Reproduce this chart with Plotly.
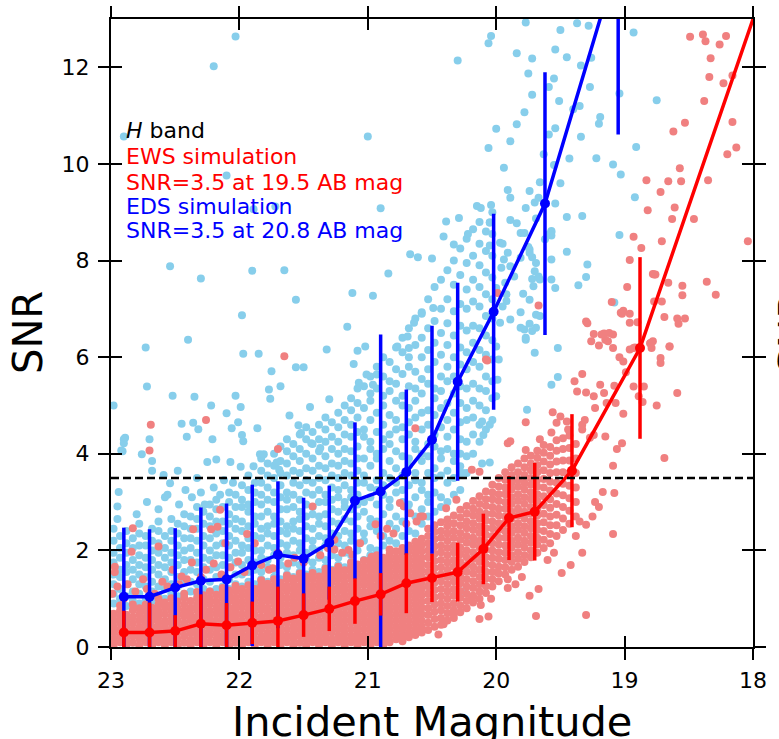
import plotly.graph_objects as go

# binned median curves with error bars
ews_bin_mag = [22.9, 22.7, 22.5, 22.3, 22.1, 21.9, 21.7, 21.5, 21.3, 21.1,
               20.9, 20.7, 20.5, 20.3, 20.1, 19.9, 19.7, 19.41, 18.88, 17.9]
ews_bin_snr = [0.30, 0.30, 0.33, 0.48, 0.45, 0.50, 0.54, 0.66, 0.79, 0.95,
               1.09, 1.32, 1.43, 1.55, 2.03, 2.67, 2.80, 3.65, 6.19, 13.77]
ews_bin_err = [0.45, 0.62, 0.33, 0.61, 0.46, 0.44, 0.71, 0.45, 0.46, 0.47,
               0.44, 0.62, 0.50, 0.61, 0.73, 0.87, 1.01, 1.17, 1.88, 2.5]

eds_bin_mag = [22.9, 22.7, 22.5, 22.3, 22.1, 21.9, 21.7, 21.5, 21.3, 21.1,
               20.9, 20.7, 20.5, 20.3, 20.02, 19.62, 19.05]
eds_bin_snr = [1.04, 1.04, 1.23, 1.37, 1.40, 1.69, 1.91, 1.83, 2.16, 3.03,
               3.22, 3.62, 4.29, 5.49, 6.94, 9.18, 14.25]
eds_bin_err = [1.43, 1.40, 1.23, 1.52, 1.57, 1.67, 1.52, 1.26, 1.18, 1.62,
               3.25, 1.71, 2.36, 2.05, 2.03, 2.72, 3.64]

snr_threshold = 3.5
mag_ticks = [23, 22, 21, 20, 19, 18]
snr_ticks = [0, 2, 4, 6, 8, 10, 12]

# EWS simulated sources: the packed band, listed column by column
ews_core_columns = [
    (22.98, [0.03, 0.16, 0.3, 0.42, 0.55, 0.69]),
    (22.93, [0.1, 0.23, 0.36, 0.5, 0.62, 0.75, 0.86]),
    (22.88, [0.04, 0.16, 0.29, 0.43, 0.55, 0.67]),
    (22.83, [0.09, 0.22, 0.36, 0.49, 0.62, 0.76, 0.88]),
    (22.78, [0.03, 0.17, 0.29, 0.41, 0.55, 0.68, 0.8]),
    (22.73, [0.1, 0.24, 0.36, 0.49, 0.61, 0.75, 0.88]),
    (22.68, [0.03, 0.16, 0.28, 0.42, 0.56, 0.68, 0.81]),
    (22.63, [0.1, 0.23, 0.37, 0.49, 0.62, 0.74, 0.88, 1.0]),
    (22.58, [0.04, 0.16, 0.29, 0.42, 0.54, 0.68, 0.81, 0.92]),
    (22.53, [0.1, 0.22, 0.36, 0.5, 0.62, 0.75, 0.87, 1.01]),
    (22.48, [0.03, 0.16, 0.3, 0.42, 0.55, 0.68, 0.8, 0.94]),
    (22.43, [0.09, 0.23, 0.36, 0.49, 0.63, 0.75, 0.88, 1.02, 1.1]),
    (22.38, [0.03, 0.15, 0.29, 0.42, 0.56, 0.68, 0.81, 0.95]),
    (22.33, [0.1, 0.23, 0.35, 0.49, 0.62, 0.76, 0.88, 1.01, 1.14]),
    (22.28, [0.04, 0.16, 0.29, 0.43, 0.55, 0.68, 0.82, 0.94, 1.07]),
    (22.23, [0.1, 0.24, 0.36, 0.49, 0.62, 0.75, 0.89, 1.01, 1.15]),
    (22.18, [0.03, 0.16, 0.29, 0.42, 0.55, 0.69, 0.81, 0.94, 1.08]),
    (22.13, [0.1, 0.23, 0.37, 0.49, 0.62, 0.75, 0.88, 1.02, 1.14, 1.22]),
    (22.08, [0.03, 0.17, 0.29, 0.42, 0.56, 0.68, 0.81, 0.95, 1.07, 1.17]),
    (22.03, [0.09, 0.23, 0.36, 0.5, 0.62, 0.75, 0.88, 1.01, 1.15, 1.27]),
    (21.98, [0.03, 0.16, 0.29, 0.42, 0.55, 0.68, 0.82, 0.94, 1.07, 1.2]),
    (21.93, [0.1, 0.23, 0.36, 0.49, 0.63, 0.75, 0.88, 1.01, 1.14, 1.28]),
    (21.88, [0.04, 0.16, 0.3, 0.42, 0.55, 0.68, 0.81, 0.94, 1.08, 1.2]),
    (21.83, [0.1, 0.22, 0.36, 0.49, 0.62, 0.76, 0.88, 1.01, 1.14, 1.27, 1.38]),
    (21.78, [0.03, 0.16, 0.29, 0.43, 0.55, 0.68, 0.81, 0.95, 1.07, 1.2, 1.31]),
    (21.73, [0.1, 0.23, 0.36, 0.49, 0.62, 0.75, 0.89, 1.01, 1.14, 1.27, 1.4]),
    (21.68, [0.03, 0.16, 0.29, 0.42, 0.56, 0.68, 0.81, 0.94, 1.07, 1.21, 1.33]),
    (21.63, [0.1, 0.23, 0.36, 0.5, 0.62, 0.75, 0.88, 1.01, 1.15, 1.27, 1.4, 1.48]),
    (21.58, [0.03, 0.17, 0.29, 0.42, 0.55, 0.68, 0.82, 0.94, 1.07, 1.2, 1.33, 1.42]),
    (21.53, [0.09, 0.23, 0.36, 0.49, 0.62, 0.76, 0.88, 1.01, 1.14, 1.27, 1.41, 1.52]),
    (21.48, [0.03, 0.16, 0.29, 0.42, 0.55, 0.68, 0.81, 0.94, 1.08, 1.2, 1.33, 1.46]),
    (21.43, [0.1, 0.23, 0.36, 0.49, 0.62, 0.75, 0.88, 1.02, 1.14, 1.27, 1.4, 1.53]),
    (21.38, [0.04, 0.16, 0.29, 0.42, 0.55, 0.69, 0.81, 0.94, 1.07, 1.2, 1.33, 1.46]),
    (21.33, [0.1, 0.23, 0.36, 0.49, 0.63, 0.75, 0.88, 1.01, 1.14, 1.27, 1.4, 1.53, 1.62]),
    (21.28, [0.03, 0.16, 0.3, 0.42, 0.55, 0.68, 0.81, 0.94, 1.07, 1.2, 1.34, 1.46, 1.58]),
    (21.23, [0.1, 0.23, 0.36, 0.49, 0.62, 0.75, 0.88, 1.01, 1.15, 1.27, 1.4, 1.53, 1.66]),
    (21.18, [0.03, 0.16, 0.29, 0.42, 0.55, 0.68, 0.82, 0.94, 1.07, 1.2, 1.33, 1.46, 1.59]),
    (21.13, [0.1, 0.23, 0.36, 0.5, 0.62, 0.75, 0.88, 1.01, 1.14, 1.27, 1.41, 1.53, 1.66, 1.75]),
    (21.08, [0.03, 0.16, 0.29, 0.42, 0.55, 0.68, 0.81, 0.95, 1.07, 1.2, 1.33, 1.46, 1.59, 1.71]),
    (21.03, [0.1, 0.23, 0.36, 0.49, 0.62, 0.75, 0.88, 1.01, 1.14, 1.28, 1.4, 1.53, 1.66, 1.79]),
    (20.98, [0.03, 0.16, 0.29, 0.42, 0.55, 0.68, 0.81, 0.94, 1.07, 1.2, 1.33, 1.46, 1.6, 1.72, 1.8]),
    (20.93, [0.1, 0.23, 0.36, 0.49, 0.62, 0.75, 0.88, 1.01, 1.14, 1.27, 1.4, 1.53, 1.66, 1.79, 1.9]),
    (20.88, [0.04, 0.16, 0.29, 0.42, 0.55, 0.68, 0.81, 0.94, 1.07, 1.2, 1.33, 1.46, 1.59, 1.72, 1.85]),
    (20.83, [0.1, 0.23, 0.36, 0.49, 0.62, 0.75, 0.88, 1.01, 1.14, 1.27, 1.4, 1.53, 1.66, 1.79, 1.92, 2.02]),
    (20.78, [0.16, 0.29, 0.42, 0.55, 0.68, 0.81, 0.94, 1.07, 1.2, 1.33, 1.46, 1.59, 1.72, 1.85, 1.98]),
    (20.73, [0.12, 0.23, 0.36, 0.49, 0.62, 0.75, 0.88, 1.01, 1.14, 1.27, 1.4, 1.53, 1.66, 1.79, 1.92, 2.05]),
    (20.68, [0.2, 0.29, 0.42, 0.55, 0.68, 0.81, 0.94, 1.07, 1.2, 1.33, 1.46, 1.59, 1.72, 1.85, 1.98, 2.1]),
    (20.63, [0.25, 0.36, 0.49, 0.62, 0.75, 0.88, 1.01, 1.14, 1.27, 1.4, 1.53, 1.66, 1.79, 1.92, 2.05, 2.18]),
    (20.58, [0.3, 0.42, 0.55, 0.68, 0.81, 0.94, 1.07, 1.2, 1.33, 1.46, 1.59, 1.72, 1.85, 1.98, 2.11, 2.24]),
    (20.53, [0.35, 0.5, 0.66, 0.8, 0.95, 1.1, 1.26, 1.4, 1.55, 1.7, 1.86, 2.0, 2.15, 2.3, 2.45]),
    (20.48, [0.42, 0.58, 0.73, 0.88, 1.03, 1.18, 1.33, 1.48, 1.63, 1.78, 1.93, 2.08, 2.23, 2.38, 2.52]),
    (20.43, [0.46, 0.6, 0.76, 0.9, 1.05, 1.2, 1.36, 1.5, 1.65, 1.8, 1.96, 2.1, 2.26, 2.4, 2.58]),
    (20.38, [0.55, 0.7, 0.85, 1.0, 1.15, 1.3, 1.45, 1.6, 1.75, 1.9, 2.05, 2.2, 2.35, 2.5, 2.64]),
    (20.33, [0.6, 0.76, 0.9, 1.06, 1.2, 1.36, 1.5, 1.66, 1.8, 1.96, 2.1, 2.26, 2.4, 2.56, 2.72]),
    (20.28, [0.72, 0.86, 1.02, 1.16, 1.32, 1.46, 1.62, 1.76, 1.92, 2.06, 2.22, 2.36, 2.52, 2.68, 2.84]),
    (20.23, [0.8, 0.95, 1.1, 1.25, 1.4, 1.56, 1.7, 1.86, 2.0, 2.16, 2.3, 2.46, 2.6, 2.76, 2.92]),
    (20.18, [0.92, 1.06, 1.22, 1.36, 1.52, 1.66, 1.82, 1.96, 2.12, 2.26, 2.42, 2.56, 2.72, 2.86, 3.02]),
    (20.13, [1.0, 1.15, 1.3, 1.45, 1.6, 1.76, 1.9, 2.06, 2.2, 2.36, 2.5, 2.66, 2.8, 2.96, 3.12]),
    (20.08, [1.12, 1.26, 1.42, 1.56, 1.72, 1.86, 2.02, 2.16, 2.32, 2.46, 2.62, 2.76, 2.92, 3.06, 3.22]),
    (20.03, [1.25, 1.4, 1.55, 1.7, 1.85, 2.0, 2.15, 2.3, 2.46, 2.6, 2.76, 2.9, 3.06, 3.2, 3.36]),
    (19.98, [1.36, 1.52, 1.66, 1.82, 1.96, 2.12, 2.26, 2.42, 2.56, 2.72, 2.86, 3.02, 3.16, 3.32, 3.5]),
    (19.93, [1.5, 1.65, 1.8, 1.95, 2.1, 2.26, 2.4, 2.56, 2.7, 2.86, 3.0, 3.16, 3.3, 3.46, 3.62]),
    (19.88, [1.6, 1.76, 1.9, 2.06, 2.2, 2.36, 2.5, 2.66, 2.8, 2.96, 3.1, 3.26, 3.4, 3.56, 3.72]),
    (19.83, [1.66, 1.82, 1.96, 2.12, 2.26, 2.42, 2.56, 2.72, 2.86, 3.02, 3.16, 3.32, 3.46, 3.62, 3.8]),
    (19.78, [1.76, 1.9, 2.06, 2.2, 2.36, 2.5, 2.66, 2.8, 2.96, 3.1, 3.26, 3.4, 3.56, 3.72, 3.9]),
    (19.73, [1.86, 2.0, 2.16, 2.3, 2.46, 2.6, 2.76, 2.9, 3.06, 3.2, 3.36, 3.5, 3.66, 3.8, 3.96]),
    (19.68, [1.95, 2.12, 2.26, 2.42, 2.56, 2.72, 2.86, 3.02, 3.16, 3.32, 3.46, 3.62, 3.76, 3.92, 4.06]),
    (19.63, [2.05, 2.22, 2.4, 2.58, 2.76, 2.94, 3.12, 3.3, 3.48, 3.66, 3.84, 4.02, 4.18]),
    (19.58, [2.15, 2.34, 2.52, 2.7, 2.88, 3.06, 3.24, 3.42, 3.6, 3.78, 3.96, 4.14]),
    (19.53, [2.3, 2.52, 2.74, 2.96, 3.18, 3.4, 3.62, 3.84, 4.06, 4.28]),
    (19.48, [2.42, 2.66, 2.9, 3.14, 3.38, 3.62, 3.86, 4.1, 4.32]),
    (19.43, [2.55, 2.82, 3.08, 3.34, 3.6, 3.86, 4.12, 4.38]),
    (19.38, [2.7, 3.0, 3.3, 3.6, 3.9, 4.2]),
]

# EWS sources scattered outside the packed band
ews_scatter = [
    (22.97, 1.66), (22.97, 1.55), (22.84, 1.97), (22.83, 2.46), (22.63, 2.08), (22.45, 1.46),
    (22.2, 1.73), (22.11, 2.15), (22.36, 2.44), (22.22, 2.44), (22.15, 2.84), (22.99, 1.1),
    (22.95, 1.25), (22.9, 1.0), (22.87, 1.3), (22.81, 1.15), (22.75, 1.4), (22.72, 1.2),
    (22.66, 1.1), (22.6, 1.35), (22.56, 1.25), (22.52, 1.6), (22.47, 1.3), (22.41, 1.4),
    (22.37, 1.75), (22.3, 1.45), (22.26, 1.6), (22.17, 2.49), (22.14, 1.5), (22.07, 1.65),
    (22.01, 1.77), (21.96, 1.55), (21.94, 2.34), (21.88, 2.15), (21.83, 1.7), (21.77, 1.6),
    (21.74, 1.63), (21.7, 1.95), (21.62, 1.73), (21.57, 1.85), (21.5, 1.75), (21.43, 2.91),
    (21.37, 1.9), (21.31, 2.05), (21.26, 2.22), (21.26, 2.02), (21.2, 1.95), (21.15, 2.01),
    (21.12, 1.91), (21.06, 2.15), (20.97, 1.87), (20.94, 2.54), (20.9, 2.3), (20.85, 2.45),
    (20.8, 2.35), (20.75, 2.98), (20.72, 2.91), (20.7, 2.55), (20.67, 2.77), (20.62, 2.6),
    (20.59, 2.7), (20.57, 2.7),
    (22.69, 4.6), (22.26, 4.7), (22.7, 4.07), (21.7, 4.1), (21.65, 6.02), (20.63, 4.53),
    (20.07, 5.93), (19.91, 4.22), (20.19, 3.67), (20.13, 3.63), (20.31, 3.05), (20.39, 2.87),
    (19.99, 7.33), (19.67, 7.07), (20.08, 5.95),
    (19.3, 0.66), (19.69, 0.64), (20.06, 0.63), (20.13, 0.58), (20.45, 0.26), (20.41, 0.47),
    (20.33, 0.68), (19.74, 1.06), (19.67, 1.2), (19.49, 1.53), (19.42, 1.7), (19.33, 1.95),
    (19.09, 2.34), (19.3, 2.53), (19.17, 3.21), (19.08, 3.19), (19.23, 3.0), (19.09, 3.75),
    (19.91, 1.22), (19.91, 1.4), (19.99, 1.54), (20.12, 0.87), (20.19, 1.01), (20.04, 1.0),
    (19.85, 1.3), (19.8, 1.45), (19.6, 1.8), (19.55, 1.95), (19.38, 2.3), (19.25, 2.7),
    (19.2, 2.9), (19.35, 2.6),
    (19.77, 4.65), (19.89, 4.26), (19.66, 4.3), (19.77, 4.08), (19.56, 4.86), (19.5, 4.77),
    (19.45, 4.67), (19.44, 4.5), (19.57, 4.44), (19.53, 4.64), (19.33, 4.6), (19.33, 4.5),
    (19.27, 4.33), (19.24, 4.39), (19.15, 4.36), (19.02, 4.22), (19.06, 4.1), (18.69, 3.91),
    (19.31, 4.7), (19.23, 4.95), (19.39, 5.5), (19.33, 5.65), (19.24, 5.19), (19.19, 5.43),
    (19.37, 5.29), (19.3, 5.27), (19.16, 5.26), (19.14, 5.05), (19.07, 5.05), (19.01, 4.83),
    (19.08, 5.41), (18.93, 5.39), (18.85, 5.39), (18.89, 5.19), (18.86, 5.07), (18.75, 5.0),
    (18.59, 5.26), (18.99, 5.69), (18.72, 5.98), (18.72, 5.88), (19.04, 6.0), (19.01, 5.91),
    (18.96, 6.16), (18.93, 6.19), (18.8, 6.29), (18.79, 6.19), (18.65, 6.22), (19.3, 6.74),
    (19.24, 6.48), (19.18, 6.47), (19.12, 6.5), (19.15, 6.36), (19.26, 6.33), (19.2, 6.24),
    (19.09, 6.19), (19.1, 7.14), (19.03, 6.92), (18.96, 6.9), (18.78, 7.72), (18.76, 7.71),
    (19.29, 6.7),
    (18.49, 12.63), (18.39, 12.68), (18.37, 12.54), (18.26, 12.47), (18.21, 12.65), (18.33, 12.19),
    (18.34, 11.8), (18.23, 11.67), (18.16, 11.83), (18.38, 11.3), (18.53, 10.85), (18.62, 10.67),
    (18.16, 10.87), (18.13, 10.34), (18.2, 10.2), (18.57, 9.91), (18.83, 9.66), (18.66, 9.64),
    (18.56, 9.64), (18.35, 9.66), (18.72, 9.42), (18.61, 9.1), (18.82, 9.04), (18.63, 8.86),
    (18.46, 8.86), (18.04, 8.4), (18.93, 8.49), (18.87, 8.26), (18.71, 8.4), (18.96, 8.01),
    (18.77, 7.71), (18.66, 7.54), (18.55, 7.48), (18.55, 7.28), (18.36, 7.56), (18.29, 7.29),
    (18.98, 7.45), (18.77, 7.15), (18.71, 7.15), (19.01, 6.96), (19.02, 6.9), (18.96, 6.71),
    (18.9, 6.72), (18.69, 6.83), (18.59, 6.8), (18.58, 6.69), (18.53, 6.8), (19.16, 6.49),
    (19.09, 6.47), (19.13, 6.33), (18.8, 6.29), (18.78, 6.33), (18.65, 6.22), (18.92, 6.2),
]

# EDS simulated sources: the dense cloud, column by column
eds_core_columns = [
    (22.98, [0.9, 1.1, 1.3, 1.5, 1.75, 1.95, 2.2, 2.45]),
    (22.93, [1.0, 1.2, 1.45, 1.6, 1.85, 2.05, 2.3]),
    (22.88, [0.85, 1.05, 1.3, 1.55, 1.7, 1.95, 2.15, 2.4]),
    (22.83, [0.95, 1.15, 1.4, 1.6, 1.8, 2.05, 2.25]),
    (22.78, [0.9, 1.1, 1.3, 1.5, 1.7, 1.9, 2.1, 2.35, 2.55]),
    (22.73, [1.0, 1.25, 1.45, 1.65, 1.85, 2.1, 2.3]),
    (22.68, [0.95, 1.15, 1.35, 1.6, 1.8, 2.0, 2.2, 2.45]),
    (22.63, [1.05, 1.25, 1.5, 1.7, 1.95, 2.15, 2.4, 2.6]),
    (22.58, [1.0, 1.2, 1.4, 1.65, 1.85, 2.05, 2.3]),
    (22.53, [1.1, 1.3, 1.55, 1.75, 1.95, 2.2, 2.4, 2.65]),
    (22.48, [1.05, 1.25, 1.45, 1.7, 1.9, 2.1, 2.35, 2.55]),
    (22.43, [1.1, 1.35, 1.55, 1.8, 2.0, 2.25, 2.5, 2.75]),
    (22.38, [1.15, 1.35, 1.6, 1.8, 2.05, 2.25, 2.45, 2.7]),
    (22.33, [1.1, 1.3, 1.55, 1.75, 1.95, 2.2, 2.45, 2.65, 2.9]),
    (22.28, [1.2, 1.4, 1.65, 1.85, 2.1, 2.3, 2.55, 2.8]),
    (22.23, [1.15, 1.35, 1.6, 1.8, 2.0, 2.25, 2.5, 2.7, 2.95]),
    (22.18, [1.2, 1.45, 1.65, 1.9, 2.1, 2.35, 2.6, 2.85, 3.05]),
    (22.13, [1.25, 1.45, 1.7, 1.9, 2.15, 2.4, 2.6, 2.9]),
    (22.08, [1.2, 1.4, 1.65, 1.85, 2.1, 2.3, 2.55, 2.75, 3.0, 3.2]),
    (22.03, [1.3, 1.5, 1.75, 1.95, 2.2, 2.45, 2.65, 2.9, 3.15]),
    (21.98, [1.25, 1.5, 1.7, 1.95, 2.1, 2.4, 2.6, 2.9, 3.05, 3.35]),
    (21.93, [1.35, 1.55, 1.8, 2.05, 2.25, 2.5, 2.8, 2.95, 3.25, 3.55]),
    (21.88, [1.3, 1.6, 1.75, 2.0, 2.3, 2.55, 2.7, 3.0, 3.2, 3.4]),
    (21.83, [1.4, 1.55, 1.85, 2.0, 2.25, 2.45, 2.7, 2.95, 3.15, 3.4, 3.65, 3.9]),
    (21.78, [1.35, 1.65, 1.8, 2.1, 2.35, 2.5, 2.8, 3.05, 3.3, 3.55, 3.8]),
    (21.73, [1.45, 1.6, 1.9, 2.05, 2.3, 2.55, 2.7, 3.0, 3.2, 3.5, 3.75, 4.0]),
    (21.68, [1.4, 1.7, 1.85, 2.15, 2.4, 2.6, 2.85, 3.1, 3.35, 3.6, 3.85, 4.15]),
    (21.63, [1.5, 1.65, 1.95, 2.1, 2.35, 2.5, 2.85, 3.05, 3.2, 3.55, 3.8, 4.05, 4.3]),
    (21.58, [1.45, 1.75, 1.9, 2.2, 2.45, 2.6, 2.9, 3.15, 3.4, 3.65, 3.95, 4.2]),
    (21.53, [1.55, 1.7, 2.0, 2.15, 2.4, 2.65, 2.8, 3.05, 3.35, 3.6, 3.85, 4.1, 4.4]),
    (21.48, [1.5, 1.8, 1.95, 2.25, 2.5, 2.7, 2.95, 3.2, 3.45, 3.7, 4.0, 4.3, 4.55]),
    (21.43, [1.6, 1.75, 2.05, 2.2, 2.45, 2.75, 2.9, 3.15, 3.4, 3.65, 3.9, 4.2, 4.45]),
    (21.38, [1.55, 1.85, 2.0, 2.3, 2.55, 2.7, 3.0, 3.25, 3.5, 3.75, 4.05, 4.3, 4.6]),
    (21.33, [1.65, 1.8, 2.1, 2.25, 2.5, 2.75, 3.0, 3.15, 3.45, 3.7, 3.95, 4.25, 4.5, 4.75]),
    (21.28, [1.6, 1.9, 2.05, 2.35, 2.6, 2.85, 3.05, 3.3, 3.55, 3.8, 4.1, 4.35, 4.65]),
    (21.23, [1.7, 1.85, 2.15, 2.3, 2.55, 2.8, 3.1, 3.25, 3.5, 3.75, 4.0, 4.25, 4.55, 4.85]),
    (21.18, [1.65, 1.95, 2.1, 2.4, 2.65, 2.9, 3.0, 3.35, 3.6, 3.85, 4.1, 4.4, 4.7, 5.0]),
    (21.13, [1.75, 1.9, 2.2, 2.35, 2.6, 2.85, 3.1, 3.25, 3.55, 3.8, 4.05, 4.35, 4.6, 4.9, 5.15]),
    (21.08, [1.7, 2.0, 2.15, 2.45, 2.7, 2.95, 3.15, 3.4, 3.65, 3.9, 4.15, 4.45, 4.75, 5.05, 5.35]),
    (21.03, [1.8, 2.2, 2.35, 2.8, 3.0, 3.4, 3.55, 3.9, 4.35, 4.5, 4.95, 5.4]),
    (20.98, [1.9, 2.05, 2.5, 2.65, 3.1, 3.3, 3.75, 4.1, 4.25, 4.7, 5.1, 5.25, 5.6]),
    (20.93, [2.0, 2.4, 2.6, 2.95, 3.25, 3.45, 3.9, 4.0, 4.45, 4.85, 5.35, 5.8]),
    (20.88, [2.1, 2.3, 2.75, 3.15, 3.35, 3.6, 4.1, 4.3, 4.6, 5.0, 5.2, 5.6, 6.0]),
    (20.83, [2.2, 2.55, 2.9, 3.05, 3.5, 3.85, 4.2, 4.4, 4.8, 5.3, 5.5, 5.9]),
    (20.78, [2.15, 2.45, 2.7, 3.2, 3.4, 3.7, 4.05, 4.5, 4.7, 5.1, 5.45, 5.75, 6.2]),
    (20.73, [2.3, 2.6, 3.0, 3.25, 3.55, 3.95, 4.3, 4.55, 5.0, 5.2, 5.65, 6.1, 6.4]),
    (20.68, [2.4, 2.8, 2.95, 3.35, 3.75, 3.9, 4.4, 4.65, 4.95, 5.4, 5.8, 6.0, 6.6]),
    (20.63, [2.35, 2.7, 3.1, 3.45, 3.6, 4.1, 4.25, 4.75, 5.1, 5.35, 5.7, 6.25, 6.8]),
    (20.58, [2.55, 2.85, 3.25, 3.4, 3.85, 4.0, 4.5, 4.85, 5.25, 5.55, 6.0, 6.4, 6.9]),
    (20.53, [2.7, 3.0, 3.15, 3.6, 3.95, 4.2, 4.6, 4.9, 5.45, 5.75, 6.15, 6.6, 7.2]),
    (20.48, [2.8, 3.2, 3.5, 3.7, 4.15, 4.4, 4.8, 5.15, 5.35, 5.9, 6.3, 6.75, 7.45]),
    (20.43, [2.9, 3.1, 3.55, 3.9, 4.05, 4.55, 4.95, 5.3, 5.6, 6.05, 6.5, 7.0, 7.6]),
    (20.38, [3.0, 3.4, 3.65, 4.1, 4.35, 4.7, 5.05, 5.5, 5.8, 6.25, 6.7, 7.2, 7.8]),
    (20.33, [3.15, 3.5, 3.85, 4.0, 4.5, 4.85, 5.25, 5.6, 6.0, 6.45, 6.95, 7.5, 8.0]),
    (20.28, [3.25, 3.6, 4.0, 4.3, 4.65, 5.05, 5.4, 5.85, 6.2, 6.65, 7.1, 7.7, 8.25]),
    (20.23, [3.6, 3.95, 4.25, 4.7, 4.95, 5.35, 5.75, 6.1, 6.55, 7.0, 7.4, 7.95, 8.45]),
    (20.18, [4.0, 4.4, 4.75, 5.1, 5.45, 5.9, 6.3, 6.65, 7.15, 7.6, 8.1, 8.65]),
    (20.13, [4.25, 4.6, 5.0, 5.35, 5.8, 6.15, 6.6, 7.05, 7.45, 7.9, 8.35, 8.8]),
    (20.08, [4.5, 4.9, 5.3, 5.6, 6.05, 6.45, 6.85, 7.3, 7.75, 8.2, 8.6]),
    (20.03, [4.7, 5.15, 5.5, 5.95, 6.35, 6.8, 7.2, 7.65, 8.1, 8.55, 9.0]),
]

# EDS sources scattered outside the dense cloud
eds_scatter = [
    (22.9, 10.57), (22.2, 12.02), (22.03, 12.64), (22.1, 9.76), (21.89, 9.06), (21.72, 9.12),
    (21.0, 10.57), (20.9, 9.08), (22.54, 7.88), (22.3, 7.63), (22.73, 6.2), (22.72, 5.39),
    (22.4, 6.36), (22.52, 5.2), (22.35, 5.18), (21.9, 7.79), (21.65, 7.8), (21.56, 7.19),
    (21.98, 6.87), (21.97, 6.07), (21.85, 6.07), (21.75, 5.71), (21.56, 5.79), (21.5, 5.79),
    (21.68, 5.4), (21.77, 5.33), (21.76, 5.14), (22.03, 5.2), (21.99, 4.97), (22.1, 4.84),
    (22.22, 5.0), (22.36, 4.64), (22.45, 4.62), (22.32, 4.51), (22.41, 4.35), (22.21, 4.3),
    (22.7, 4.3), (22.9, 4.3), (22.9, 4.22), (22.92, 4.07), (22.76, 3.99), (22.68, 3.85),
    (22.68, 3.65), (22.98, 5.0), (22.94, 3.21), (22.06, 4.53), (22.01, 4.65), (21.98, 4.39),
    (21.97, 4.26), (21.86, 4.53), (21.84, 3.99), (21.81, 3.99), (21.71, 3.82), (21.69, 3.67),
    (21.89, 3.74), (22.07, 3.83), (21.99, 3.73), (22.18, 3.88), (22.25, 3.83), (22.59, 3.56),
    (22.54, 3.39), (22.48, 3.65), (22.33, 3.5), (22.56, 3.15), (22.95, 2.91), (22.95, 2.65),
    (22.89, 4.33), (22.91, 4.05), (22.8, 2.75), (22.72, 3.0), (22.63, 2.85), (22.58, 3.1),
    (22.47, 2.95), (22.42, 3.25), (22.37, 3.1), (22.3, 3.2), (22.27, 2.95), (22.2, 3.3),
    (22.15, 3.15), (22.12, 3.45), (22.05, 3.4),
    (21.32, 6.16), (21.3, 5.13), (21.45, 4.97), (21.61, 4.79), (21.54, 4.59), (21.52, 4.43),
    (21.44, 4.22), (21.37, 4.12), (21.16, 6.63), (21.12, 7.33), (20.96, 7.27), (20.84, 7.73),
    (20.67, 8.13), (20.61, 8.07), (20.5, 8.04), (21.08, 6.13), (21.02, 6.22), (21.11, 5.86),
    (21.07, 5.47), (21.01, 5.64), (20.93, 5.64), (20.96, 5.43), (20.77, 6.22), (20.68, 6.19),
    (20.58, 6.93), (20.64, 6.71), (20.69, 6.43), (20.49, 7.02),
    (20.74, 0.28), (20.18, 2.22), (20.26, 1.15),
    (20.39, 8.81), (20.29, 8.88), (20.41, 8.5), (20.22, 8.55), (20.33, 8.33), (20.15, 9.13),
    (20.12, 9.09), (20.04, 9.15), (20.05, 8.79), (20.05, 8.31), (20.3, 12.14), (20.04, 12.65),
    (20.06, 12.5), (20.06, 10.33), (20.0, 10.73),
    (19.77, 12.93), (19.5, 12.77), (19.37, 12.91), (19.28, 12.86), (19.84, 12.29), (19.72, 12.18),
    (19.54, 12.37), (19.45, 12.21), (19.26, 12.2), (19.34, 12.04), (18.93, 12.72), (19.75, 11.87),
    (19.55, 11.77), (19.59, 11.59), (19.27, 11.59), (19.72, 11.43), (19.51, 11.3), (19.35, 11.2),
    (19.4, 11.13), (19.04, 11.46), (18.75, 11.32), (19.78, 11.07), (19.19, 10.97), (19.2, 10.83),
    (19.84, 10.82), (19.54, 10.74), (19.59, 10.61), (19.89, 10.47), (19.34, 10.56), (18.91, 10.35),
    (19.63, 10.2), (19.43, 10.11), (19.22, 10.12), (19.94, 9.92), (19.09, 9.99), (19.03, 9.78),
    (19.55, 9.98), (19.66, 9.62), (19.5, 9.6), (19.91, 9.46), (19.74, 9.44), (19.89, 9.3),
    (19.77, 9.09), (19.7, 9.2), (19.54, 9.18), (18.92, 9.31), (20.05, 8.79), (19.89, 8.84),
    (19.84, 8.77), (19.69, 8.87), (19.45, 8.9), (19.33, 8.92), (19.81, 8.57), (19.78, 8.57),
    (19.59, 8.54), (19.04, 8.53), (19.95, 8.35), (19.75, 8.28), (19.62, 8.44), (19.57, 8.59),
    (19.45, 8.18), (19.67, 9.3), (19.57, 8.61), (19.57, 8.52), (19.74, 8.23),
    (19.97, 8.37), (19.94, 8.02), (19.96, 7.85), (19.89, 7.88), (19.86, 7.67), (19.93, 7.54),
    (19.92, 7.16), (19.95, 7.05), (19.79, 7.31), (19.81, 6.93), (19.74, 6.69), (19.78, 6.57),
    (19.72, 6.54), (19.77, 6.36), (19.69, 6.88), (19.72, 8.07), (19.69, 7.95), (19.72, 7.62),
    (19.67, 7.67), (19.71, 7.47), (19.57, 8.02), (19.57, 7.61), (19.54, 7.43), (19.36, 7.49),
    (19.3, 7.66), (19.29, 7.92), (19.81, 8.06), (19.74, 8.16), (19.7, 7.78), (19.66, 7.61),
    (19.74, 7.19), (19.66, 6.85), (19.69, 6.61), (19.81, 6.61), (19.77, 6.4), (19.7, 6.09),
    (19.52, 6.19), (19.57, 5.43), (19.52, 5.59), (19.76, 4.91), (19.08, 7.13), (19.91, 8.16),
    (20.0, 7.43), (19.92, 7.3), (19.97, 6.71), (19.89, 6.78), (20.0, 6.22), (19.98, 5.95),
    (19.99, 5.53), (20.0, 5.19), (20.11, 4.67), (20.05, 4.6), (20.1, 4.39), (20.28, 3.74),
    (20.26, 3.6), (20.11, 3.8), (20.05, 3.82),
]


def expand(columns):
    xs, ys = [], []
    for mag, snrs in columns:
        xs += [mag] * len(snrs)
        ys += snrs
    return xs, ys


ews_x, ews_y = expand(ews_core_columns)
ews_x += [p[0] for p in ews_scatter]
ews_y += [p[1] for p in ews_scatter]
eds_x, eds_y = expand(eds_core_columns)
eds_x += [p[0] for p in eds_scatter]
eds_y += [p[1] for p in eds_scatter]

BLUE = "#0000FF"
RED = "#FF0000"
FONT = "DejaVu Sans"

fig = go.Figure()

fig.add_trace(go.Scatter(x=eds_x, y=eds_y, mode="markers",
                         marker=dict(color="#87CEEB", size=8, line=dict(width=0))))
fig.add_trace(go.Scatter(x=ews_x, y=ews_y, mode="markers",
                         marker=dict(color="#F08080", size=8, line=dict(width=0))))

fig.add_trace(go.Scatter(x=eds_bin_mag, y=eds_bin_snr, mode="lines+markers",
                         line=dict(color=BLUE, width=3.5),
                         marker=dict(color=BLUE, size=10),
                         error_y=dict(type="data", array=eds_bin_err, color=BLUE,
                                      thickness=3.5, width=0)))
fig.add_trace(go.Scatter(x=ews_bin_mag, y=ews_bin_snr, mode="lines+markers",
                         line=dict(color=RED, width=3.5),
                         marker=dict(color=RED, size=10),
                         error_y=dict(type="data", array=ews_bin_err, color=RED,
                                      thickness=3.5, width=0)))

# threshold line lives on the overlay axes (which also carry the inward ticks)
fig.add_trace(go.Scatter(x=[mag_ticks[0], mag_ticks[-1]], y=[snr_threshold, snr_threshold],
                         mode="lines", xaxis="x2", yaxis="y2",
                         line=dict(color="black", width=2.5, dash="8px,4px")))

axis_common = dict(showgrid=False, zeroline=False, showline=True, linewidth=2,
                   linecolor="black", tickwidth=2, tickcolor="black", ticklen=11,
                   mirror="ticks", automargin=False)

fig.update_layout(
    width=779, height=739,
    margin=dict(l=111, r=26, t=19, b=92),
    plot_bgcolor="white", paper_bgcolor="white",
    showlegend=False,
    font=dict(family=FONT, size=22, color="black"),
    xaxis=dict(range=[23, 18], tickvals=mag_ticks, ticks="outside",
               tickfont=dict(size=22), ticklabelstandoff=2, **axis_common),
    yaxis=dict(range=[0, 13], tickvals=snr_ticks, ticks="outside",
               tickfont=dict(size=22), ticklabelstandoff=4, **axis_common),
    xaxis2=dict(range=[23, 18], tickvals=mag_ticks, ticks="inside", overlaying="x",
                anchor="y2", showticklabels=False, **axis_common),
    yaxis2=dict(range=[0, 13], tickvals=snr_ticks, ticks="inside", overlaying="y",
                anchor="x2", showticklabels=False, **axis_common),
)

annots = [
    ("<i>H</i> band", "black", 131),
    ("EWS simulation", RED, 157),
    ("SNR=3.5 at 19.5 AB mag", RED, 182),
    ("EDS simulation", BLUE, 206),
    ("SNR=3.5 at 20.8 AB mag", BLUE, 230),
]
for text, color, py in annots:
    fig.add_annotation(text=text, xref="paper", yref="paper",
                       x=(124 - 111) / 642, y=(647 - py) / 628,
                       xanchor="left", yanchor="middle", showarrow=False,
                       font=dict(family=FONT, size=22, color=color))

fig.add_annotation(text="Incident Magnitude", xref="paper", yref="paper",
                   x=0.5, y=(647 - 721) / 628, xanchor="center", yanchor="middle",
                   showarrow=False, font=dict(family=FONT, size=41.5, color="black"))
fig.add_annotation(text="SNR", xref="paper", yref="paper",
                   x=(28 - 111) / 642, y=0.5, xanchor="center", yanchor="middle",
                   textangle=-90, showarrow=False,
                   font=dict(family=FONT, size=40, color="black"))
# right-hand label that is cut off by the edge of the original image
fig.add_annotation(text="SNR", xref="paper", yref="paper",
                   x=(794 - 111) / 642, y=0.5, xanchor="center", yanchor="middle",
                   textangle=-90, showarrow=False,
                   font=dict(family=FONT, size=40, color="black"))

fig.write_html("out.html", config={"displayModeBar": False},
               post_script="document.body.style.margin='0';")
